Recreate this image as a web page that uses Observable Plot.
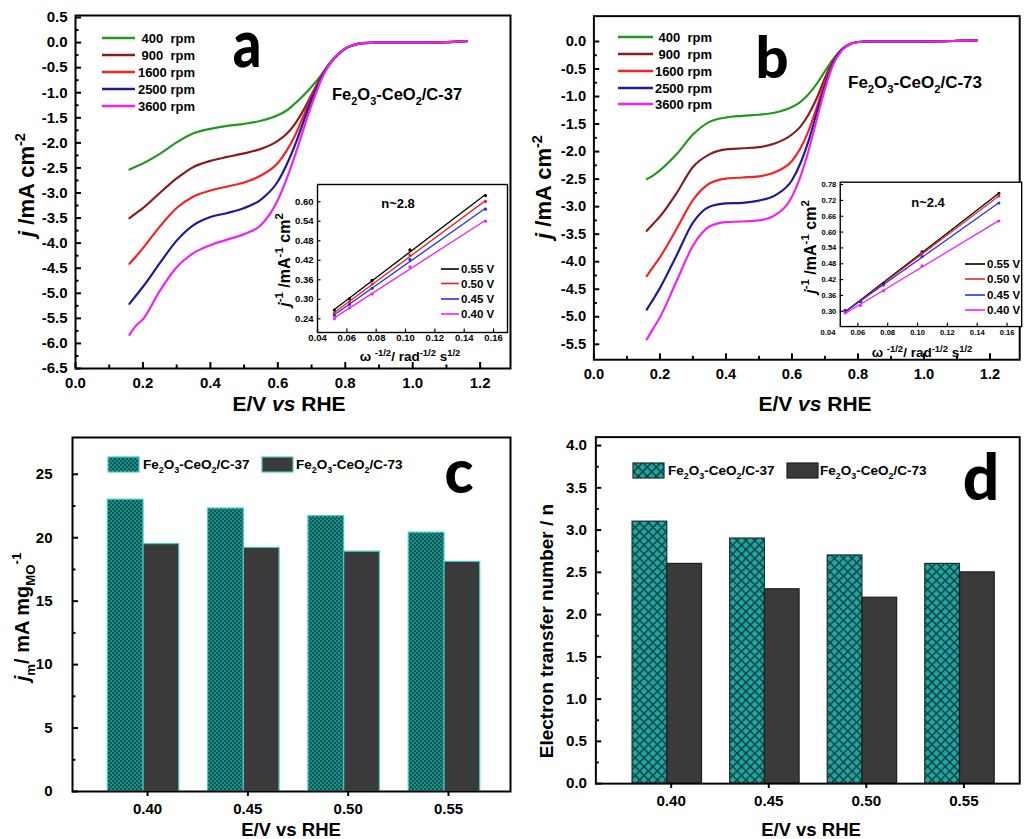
<!DOCTYPE html>
<html><head><meta charset="utf-8">
<script src="https://cdn.jsdelivr.net/npm/d3@7"></script>
<script src="https://cdn.jsdelivr.net/npm/@observablehq/plot@0.6"></script>
<style>
body{margin:0;background:#fff}
#root{position:relative;width:1029px;height:839px;overflow:hidden;background:#fff}
</style>
</head><body>
<svg width="0" height="0" style="position:absolute">
<defs>
<pattern id="patC" width="4" height="4" patternUnits="userSpaceOnUse">
  <rect width="4" height="4" fill="#1d8f8b"/>
  <rect width="2" height="2" fill="#0a5754"/>
  <rect x="2" y="2" width="2" height="2" fill="#0a5754"/>
</pattern>
<pattern id="patD" width="6.4" height="6.4" patternUnits="userSpaceOnUse" patternTransform="rotate(45)">
  <rect width="6.4" height="6.4" fill="#1fa6a2"/>
  <path d="M0,0.7H6.4M0.7,0V6.4" stroke="#0b3d3c" stroke-width="1.5" fill="none"/>
</pattern>
</defs></svg>
<div id="root"></div>
<script>
const FONT = "'Liberation Sans', Arial, Helvetica, sans-serif";

// ---------- LSV data (E in V vs RHE, j in mA cm^-2) ----------
const rpmLabels = ["400  rpm", "900  rpm", "1600 rpm", "2500 rpm", "3600 rpm"];
const rpmColors = ["#1f9a1f", "#8a1c1c", "#f42222", "#1c1c98", "#f022f0"];
const E = [0.16,0.18,0.2,0.25,0.3,0.35,0.4,0.45,0.5,0.55,0.6,0.625,0.65,0.675,0.7,0.725,0.75,0.775,0.8,0.825,0.85,0.9,1.0,1.1,1.16];

const jA400  = [-2.53,-2.47,-2.41,-2.22,-1.99,-1.81,-1.72,-1.66,-1.62,-1.56,-1.45,-1.36,-1.22,-1.06,-0.88,-0.68,-0.45,-0.26,-0.12,-0.05,-0.01,0,0,0.01,0.03];
const jA900  = [-3.50,-3.40,-3.30,-3.00,-2.71,-2.48,-2.36,-2.28,-2.21,-2.12,-1.96,-1.83,-1.63,-1.36,-1.04,-0.72,-0.45,-0.26,-0.12,-0.05,-0.01,0,0,0.01,0.03];
const jA1600 = [-4.41,-4.26,-4.10,-3.67,-3.30,-3.07,-2.95,-2.87,-2.79,-2.65,-2.40,-2.17,-1.87,-1.48,-1.08,-0.74,-0.46,-0.26,-0.12,-0.05,-0.01,0,0,0.01,0.03];
const jA2500 = [-5.21,-5.04,-4.87,-4.40,-3.95,-3.64,-3.48,-3.40,-3.30,-3.13,-2.77,-2.45,-2.06,-1.60,-1.14,-0.76,-0.46,-0.26,-0.12,-0.05,-0.01,0,0,0.01,0.03];
const jA3600 = [-5.83,-5.64,-5.52,-4.95,-4.48,-4.20,-4.04,-3.93,-3.82,-3.64,-3.14,-2.74,-2.27,-1.75,-1.25,-0.80,-0.47,-0.26,-0.12,-0.05,-0.01,0,0,0.01,0.03];

const jB400  = [-2.50,-2.43,-2.34,-2.05,-1.69,-1.46,-1.38,-1.35,-1.33,-1.29,-1.19,-1.10,-0.96,-0.77,-0.54,-0.32,-0.15,-0.05,-0.01,0,0,0,0,0.01,0.02];
const jB900  = [-3.44,-3.31,-3.18,-2.76,-2.28,-2.05,-1.96,-1.94,-1.92,-1.85,-1.69,-1.55,-1.33,-1.03,-0.66,-0.35,-0.15,-0.05,-0.01,0,0,0,0,0.01,0.02];
const jB1600 = [-4.26,-4.09,-3.92,-3.41,-2.88,-2.58,-2.49,-2.47,-2.45,-2.37,-2.17,-1.95,-1.63,-1.20,-0.74,-0.37,-0.16,-0.05,-0.01,0,0,0,0,0.01,0.02];
const jB2500 = [-4.87,-4.68,-4.48,-3.89,-3.29,-3.00,-2.94,-2.93,-2.89,-2.79,-2.52,-2.22,-1.81,-1.30,-0.80,-0.39,-0.16,-0.05,-0.01,0,0,0,0,0.01,0.02];
const jB3600 = [-5.41,-5.21,-5.01,-4.36,-3.71,-3.36,-3.28,-3.27,-3.25,-3.15,-2.82,-2.47,-1.99,-1.42,-0.86,-0.42,-0.17,-0.05,-0.01,0,0,0,0,0.01,0.02];

// ---------- Koutecky-Levich insets ----------
const kLabels = ["0.55 V", "0.50 V", "0.45 V", "0.40 V"];
const kColors = ["#000000", "#f02020", "#2030f0", "#f020f0"];
const omega = [0.0515, 0.0618, 0.0772, 0.103, 0.1545];
const Ka055 = [0.267,0.302,0.358,0.452,0.619];
const Ka050 = [0.258,0.292,0.347,0.436,0.601];
const Ka045 = [0.251,0.284,0.334,0.422,0.577];
const Ka040 = [0.240,0.274,0.316,0.400,0.540];
const Kb055 = [0.304,0.338,0.405,0.525,0.747];
const Kb050 = [0.302,0.338,0.400,0.520,0.737];
const Kb045 = [0.300,0.336,0.400,0.507,0.710];
const Kb040 = [0.294,0.322,0.378,0.472,0.642];

// ---------- bar data ----------
const potentials = [0.40, 0.45, 0.50, 0.55];
const jm37 = [23.0, 22.3, 21.7, 20.4];
const jm73 = [19.5, 19.2, 18.9, 18.1];
const n37 = [3.1, 2.9, 2.7, 2.6];
const n73 = [2.6, 2.3, 2.2, 2.5];

// ---------- ticks ----------
const xTicksMain = [0, 0.2, 0.4, 0.6, 0.8, 1.0, 1.2];
const xMinorMain = [0.1, 0.3, 0.5, 0.7, 0.9, 1.1];
const yTicksA = [-6.5,-6,-5.5,-5,-4.5,-4,-3.5,-3,-2.5,-2,-1.5,-1,-0.5,0,0.5];
const yTicksB = [-5.5,-5,-4.5,-4,-3.5,-3,-2.5,-2,-1.5,-1,-0.5,0];
const kxTicks = [0.04,0.06,0.08,0.10,0.12,0.14,0.16];
const kyTicksA = [0.24,0.30,0.36,0.42,0.48,0.54,0.60];
const kyTicksB = [0.30,0.36,0.42,0.48,0.54,0.60,0.66,0.72,0.78];
const yTicksC = [0,5,10,15,20,25];
const yTicksD = [0,0.5,1,1.5,2,2.5,3,3.5,4];

// ---------- tables ----------
function lsvTable(arrs) {
  const out = [];
  arrs.forEach((arr, k) => arr.forEach((j, i) => out.push({E: E[i], j, rpm: rpmLabels[k]})));
  return out;
}
const lsvA = lsvTable([jA400, jA900, jA1600, jA2500, jA3600]);
const lsvB = lsvTable([jB400, jB900, jB1600, jB2500, jB3600]);
function klTable(arrs) {
  const out = [];
  arrs.forEach((arr, k) => arr.forEach((v, i) => out.push({w: omega[i], v, V: kLabels[k]})));
  return out;
}
const klA = klTable([Ka055, Ka050, Ka045, Ka040]);
const klB = klTable([Kb055, Kb050, Kb045, Kb040]);
const mids = t => t.slice(1).map((v, i) => (v + t[i]) / 2);

const root = document.getElementById("root");
function place(node, left, top, z) {
  const d = document.createElement("div");
  d.style.cssText = `position:absolute;left:${left}px;top:${top}px;z-index:${z||1}`;
  d.appendChild(node); root.appendChild(d);
}
const baseStyle = {fontFamily: FONT, fontWeight: "bold", color: "#000", background: "transparent", overflow: "visible"};

function lsvPlot(table, yDomain, yTicks, mt, mb) {
  const W = 520, H = 420, ml = 75, mr = 10;
  const ph = H - mt - mb, pw = W - ml - mr;
  return Plot.plot({
    width: W, height: H, marginLeft: ml, marginRight: mr, marginTop: mt, marginBottom: mb,
    x: {domain: [0, 1.29]}, y: {domain: yDomain},
    color: {domain: rpmLabels, range: rpmColors},
    style: {...baseStyle, fontSize: "15px"},
    marks: [
      Plot.line(table, {x: "E", y: "j", stroke: "rpm", z: "rpm", strokeWidth: 2.2, curve: "monotone-x"}),
      Plot.tickX(xTicksMain, {x: d => d, insetTop: ph - 6, strokeWidth: 2}),
      Plot.tickX(xMinorMain, {x: d => d, insetTop: ph - 3.5, strokeWidth: 2}),
      Plot.tickY(yTicks, {y: d => d, insetRight: pw - 6, strokeWidth: 2}),
      Plot.tickY(mids(yTicks), {y: d => d, insetRight: pw - 3.5, strokeWidth: 2}),
      Plot.axisX(xTicksMain, {tickSize: 0, tickPadding: 9, tickFormat: d => d.toFixed(1), label: null, fontSize: 15}),
      Plot.axisY(yTicks, {tickSize: 0, tickPadding: 8, tickFormat: d => d.toFixed(1), label: null, fontSize: 15}),
      Plot.frame({strokeWidth: 2})
    ]
  });
}

function klPlot(table, xDomain, yDomain, yTicks, W, H, ml, mr, mt, mb, fs, xpad) {
  const ph = H - mt - mb, pw = W - ml - mr;
  const inX = kxTicks.filter(t => t >= xDomain[0] && t <= xDomain[1]);
  return Plot.plot({
    width: W, height: H, marginLeft: ml, marginRight: mr, marginTop: mt, marginBottom: mb,
    x: {domain: xDomain}, y: {domain: yDomain},
    color: {domain: kLabels, range: kColors},
    style: {...baseStyle, fontSize: fs + "px"},
    marks: [
      Plot.frame({fill: "#fff", stroke: null}),
      Plot.linearRegressionY(table, {x: "w", y: "v", stroke: "V", ci: 0, strokeWidth: 1.3}),
      Plot.dot(table, {x: "w", y: "v", fill: "V", r: 1.6}),
      Plot.tickX(inX, {x: d => d, insetTop: ph - 3.5, strokeWidth: 1.2}),
      Plot.tickY(yTicks, {y: d => d, insetRight: pw - 3.5, strokeWidth: 1.2}),
      Plot.axisX(kxTicks, {tickSize: 0, tickPadding: xpad, tickFormat: d => d.toFixed(2), label: null, fontSize: fs}),
      Plot.axisY(yTicks, {tickSize: 0, tickPadding: 4, tickFormat: d => d.toFixed(2), label: null, fontSize: fs}),
      Plot.frame({strokeWidth: 1.4})
    ]
  });
}

function barPlot(v37, v73, yDomain, yTicks, xDomain, ml, fill37, stroke37, stroke73, fmt, fs, ypad) {
  const W = 520, H = 419, mt = 17, mb = 48, mr = 10;
  const ph = H - mt - mb, pw = W - ml - mr;
  const barW = 0.0178, shift = -0.002;
  const bars37 = potentials.map((p, i) => ({p, v: v37[i]}));
  const bars73 = potentials.map((p, i) => ({p, v: v73[i]}));
  return Plot.plot({
    width: W, height: H, marginLeft: ml, marginRight: mr, marginTop: mt, marginBottom: mb,
    x: {domain: xDomain}, y: {domain: yDomain},
    style: {...baseStyle, fontSize: fs + "px"},
    marks: [
      Plot.rect(bars37, {x1: d => d.p + shift - barW, x2: d => d.p + shift, y1: 0, y2: "v", fill: fill37, stroke: stroke37, strokeWidth: 1.2}),
      Plot.rect(bars73, {x1: d => d.p + shift, x2: d => d.p + shift + barW, y1: 0, y2: "v", fill: "#3a3a3a", stroke: stroke73, strokeWidth: 1.2}),
      Plot.tickY(yTicks, {y: d => d, insetRight: pw - 6, strokeWidth: 2}),
      Plot.tickY(mids(yTicks), {y: d => d, insetRight: pw - 3.5, strokeWidth: 2}),
      Plot.axisX(potentials, {tickSize: 5, tickPadding: 7, tickFormat: d => d.toFixed(2), label: null, fontSize: fs, strokeWidth: 2}),
      Plot.axisY(yTicks, {tickSize: 0, tickPadding: ypad, tickFormat: fmt, label: null, fontSize: fs}),
      Plot.frame({strokeWidth: 2})
    ]
  });
}

place(lsvPlot(lsvA, [-6.5, 0.54], yTicksA, 15, 52), 0, 0);
place(lsvPlot(lsvB, [-5.78, 0.46], yTicksB, 16, 53), 520, 0);
place(klPlot(klA, [0.04, 0.1695], [0.198, 0.653], kyTicksA, 270, 200, 67, 13, 14, 38, 9.5, 2), 250, 170, 2);
place(klPlot(klB, [0.0482, 0.1698], [0.242, 0.789], kyTicksB, 245, 200, 51, 8, 12, 40, 7.8, 3), 790, 170, 2);
place(barPlot(jm37, jm73, [0, 27.9], yTicksC, [0.3626, 0.5809], 72, "url(#patC)", "#47c9c4", "#47c9c4", d => String(d), 15, 20), 0, 420);
place(barPlot(n37, n73, [0, 4.1], yTicksD, [0.3614, 0.5786], 77, "url(#patD)", "#1d2b2b", "#1d1d1d", d => d.toFixed(1), 15.5, 9), 520, 420);

// ---------- overlay text (labels, legends, annotations) ----------
const ov = d3.select(root).append("svg")
  .attr("width", 1029).attr("height", 839)
  .style("position", "absolute").style("left", 0).style("top", 0).style("z-index", 5).style("pointer-events", "none");

function parse(str) {
  const re = /(\*[^*]+\*|_\{[^}]*\}|\^\{[^}]*\}|[^*_^]+)/g;
  const segs = [];
  let m;
  while ((m = re.exec(str))) {
    const s = m[0];
    if (s[0] === "*") segs.push({t: s.slice(1, -1), k: "", it: true});
    else if (s[0] === "_") segs.push({t: s.slice(2, -1), k: "sub"});
    else if (s[0] === "^") segs.push({t: s.slice(2, -1), k: "sup"});
    else segs.push({t: s, k: ""});
  }
  return segs;
}
function rich(x, y, str, {size = 12, anchor = "start", rotate = null, family = FONT, weight = "bold", sx = 1, ss = 0.66, rise = 0.42} = {}) {
  const t = ov.append("text").attr("x", x).attr("y", y)
    .attr("font-size", size).attr("font-weight", weight).attr("font-family", family)
    .attr("text-anchor", anchor).attr("fill", "#000").style("white-space", "pre");
  if (rotate != null) t.attr("transform", `rotate(${rotate},${x},${y})`);
  if (sx !== 1) t.attr("transform", `translate(${x},${y}) scale(${sx},1) translate(${-x},${-y})`);
  let cur = 0;
  for (const s of parse(str)) {
    let target = 0, fs = size;
    if (s.k === "sub") { target = size * 0.28; fs = size * ss; }
    if (s.k === "sup") { target = -size * rise; fs = size * ss; }
    const ts = t.append("tspan").text(s.t).attr("dy", target - cur).attr("font-size", fs);
    if (s.it) ts.attr("font-style", "italic");
    cur = target;
  }
  return t;
}

// axis titles
rich(34, 185, "*j* /mA cm^{-2}", {size: 22, anchor: "middle", rotate: -90});
rich(551, 187, "*j* /mA cm^{-2}", {size: 22, anchor: "middle", rotate: -90});
rich(289, 411, "E/V *vs* RHE", {size: 21, anchor: "middle"});
rich(815, 411, "E/V *vs* RHE", {size: 21, anchor: "middle"});
rich(29, 617, "*j*_{m}/ mA mg_{MO}^{-1}", {size: 20, anchor: "middle", rotate: -90});
rich(553, 631, "Electron transfer number / n", {size: 19, anchor: "middle", rotate: -90});
rich(291, 836, "E/V vs RHE", {size: 18.5, anchor: "middle"});
rich(811, 836, "E/V vs RHE", {size: 18.5, anchor: "middle"});

// panel letters
const LF = "Lato, 'Open Sans', sans-serif";
rich(247, 67, "a", {size: 66, anchor: "middle", family: LF, weight: 900, sx: 0.85});
rich(772, 78, "b", {size: 58, anchor: "middle", family: LF, weight: 900});
rich(459, 493, "c", {size: 60, anchor: "middle", family: LF, weight: 900});
rich(981, 500, "d", {size: 64, anchor: "middle", family: LF, weight: 900});

// sample names
rich(332, 100, "Fe_{2}O_{3}-CeO_{2}/C-37", {size: 16.5});
rich(848, 88, "Fe_{2}O_{3}-CeO_{2}/C-73", {size: 17});

// LSV legends
function lsvLegend(x1, x2, xt, ys) {
  rpmLabels.forEach((lab, i) => {
    ov.append("line").attr("x1", x1).attr("x2", x2).attr("y1", ys[i]).attr("y2", ys[i])
      .attr("stroke", rpmColors[i]).attr("stroke-width", 2.5);
    rich(xt, ys[i] + 4.5, lab, {size: 13, anchor: "end"});
  });
}
lsvLegend(102, 135, 195, [38, 55, 72, 89, 106]);
lsvLegend(618, 653, 712, [37, 54, 71, 88, 104]);

// KL legends
function klLegend(x1, x2, xt, ys) {
  kLabels.forEach((lab, i) => {
    ov.append("line").attr("x1", x1).attr("x2", x2).attr("y1", ys[i]).attr("y2", ys[i])
      .attr("stroke", kColors[i]).attr("stroke-width", 1.6);
    rich(xt, ys[i] + 4.2, lab, {size: 11.5});
  });
}
klLegend(441, 459, 461, [269, 283.5, 299, 314]);
klLegend(965, 985, 987, [264, 279, 295, 310]);
rich(398, 208, "n~2.8", {size: 13, anchor: "middle"});
rich(928, 207, "n~2.4", {size: 13, anchor: "middle"});
rich(290, 260, "*j*^{-1} /mA^{-1} cm^{2}", {size: 16, anchor: "middle", rotate: -90, ss: 0.72});
rich(816, 247, "*j*^{-1} /mA^{-1} cm^{2}", {size: 16, anchor: "middle", rotate: -90, ss: 0.72});
rich(410, 361, "\u03c9 ^{-1/2}/ rad^{-1/2} s^{1/2}", {size: 13.5, anchor: "middle", ss: 0.7, rise: 0.36});
rich(922, 357, "\u03c9 ^{-1/2}/ rad^{-1/2} s^{1/2}", {size: 13.5, anchor: "middle", ss: 0.7, rise: 0.36});

// bar legends
function barLegend(sx, y, fill, stroke) {
  ov.append("rect").attr("x", sx).attr("y", y).attr("width", 31).attr("height", 15)
    .attr("fill", fill).attr("stroke", stroke).attr("stroke-width", 1.2);
}
barLegend(108, 457, "url(#patC)", "#47c9c4");
rich(143, 469, "Fe_{2}O_{3}-CeO_{2}/C-37", {size: 13.5});
barLegend(262, 457, "#3a3a3a", "#47c9c4");
rich(296, 469, "Fe_{2}O_{3}-CeO_{2}/C-73", {size: 13.5});
barLegend(633, 463, "url(#patD)", "#1d2b2b");
rich(668, 475, "Fe_{2}O_{3}-CeO_{2}/C-37", {size: 13.5});
barLegend(787, 463, "#3a3a3a", "#1d1d1d");
rich(820, 475, "Fe_{2}O_{3}-CeO_{2}/C-73", {size: 13.5});
</script>
</body></html>
